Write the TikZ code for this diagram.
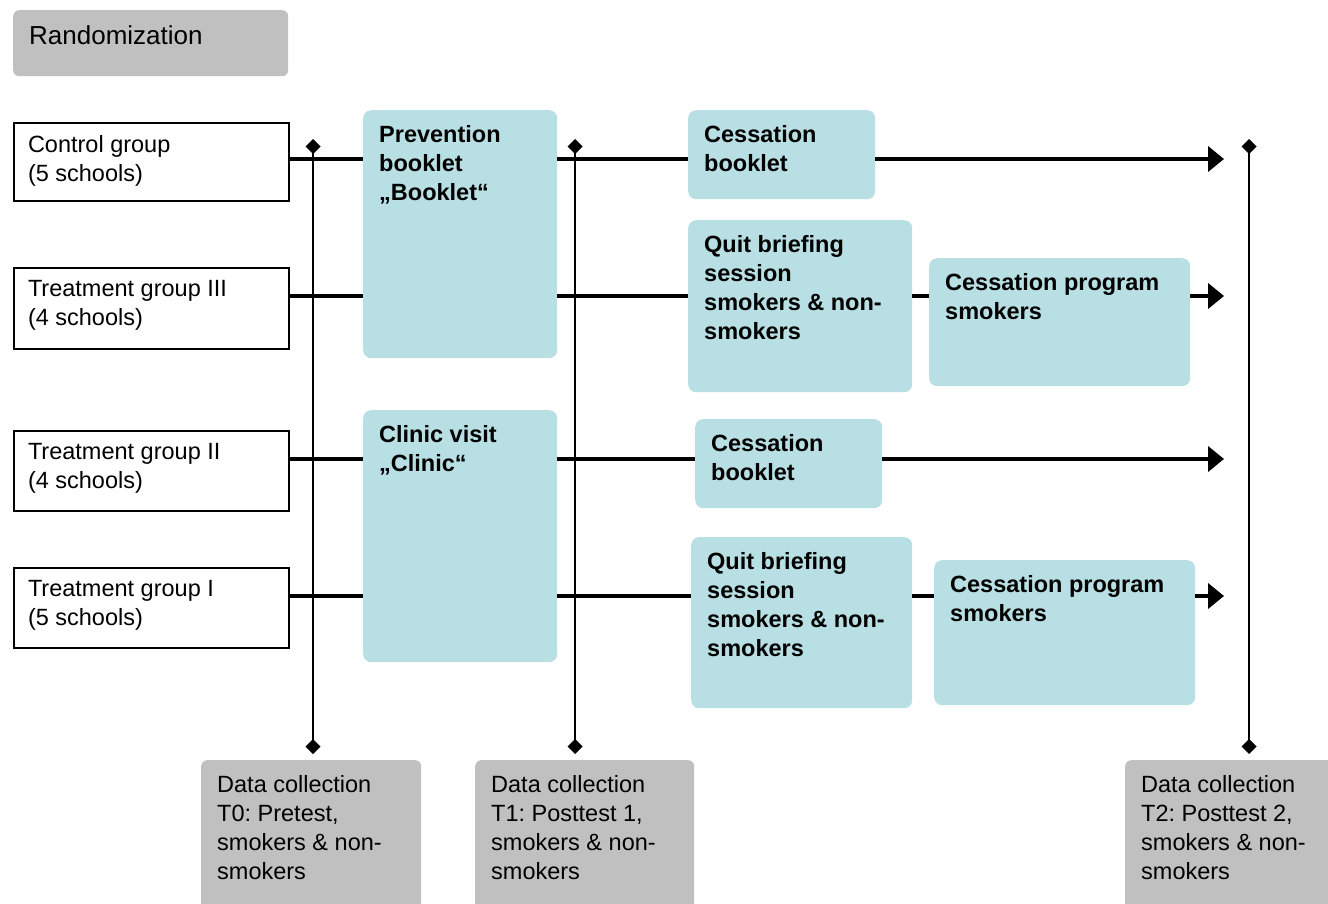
\documentclass[tikz,border=0pt]{standalone}
\usepackage{fontspec}
\setmainfont{Liberation Sans}
\usetikzlibrary{arrows.meta}
\definecolor{boxgray}{HTML}{C0C0C0}
\definecolor{boxblue}{HTML}{B8DFE3}
\frenchspacing
\newcommand{\boxtext}[3]{\parbox[t][\dimexpr#2pt-30pt\relax][t]{\dimexpr#1pt-32pt\relax}{\raggedright #3}}

\begin{document}
\begin{tikzpicture}[x=1pt,y=-1pt,
    base/.style={anchor=north west,inner xsep=16pt,inner ysep=15pt,font=\fontsize{23.5}{29}\selectfont},
    graybox/.style={base,fill=boxgray,rounded corners=6pt},
    groupbox/.style={base,draw,line width=2pt,fill=white,inner xsep=14pt,inner ysep=12pt},
    bluebox/.style={base,fill=boxblue,rounded corners=8pt,font=\bfseries\fontsize{23.5}{29}\selectfont},
    flow/.style={line width=4pt},
    endarrow/.style={flow,-{Triangle[length=16pt,width=25pt]}},
    timeline/.style={line width=2pt,arrows={Diamond[length=15pt,width=15pt]-Diamond[length=15pt,width=15pt]},shorten >=6pt}]

      \clip (0,0) rectangle (1328,904);

      \node (rand) [graybox,font=\fontsize{26}{31}\selectfont] at (13,10) {\boxtext{275}{66}{Randomization}};

      \node (ctrl) [groupbox] at (13,122) {\boxtext{279}{84}{Control group\\(5 schools)}};
      \node (tg3) [groupbox] at (13,267) {\boxtext{279}{87}{Treatment group III\\(4 schools)}};
      \node (tg2) [groupbox] at (13,430) {\boxtext{279}{86}{Treatment group II\\(4 schools)}};
      \node (tg1) [groupbox] at (13,567) {\boxtext{279}{86}{Treatment group I\\(5 schools)}};

      \node (prev) [bluebox] at (363,110) {\boxtext{194}{248}{Prevention\\booklet\\„Booklet“}};
      \node (clinic) [bluebox] at (363,410) {\boxtext{194}{252}{Clinic visit\\„Clinic“}};

      \node (cb1) [bluebox] at (688,110) {\boxtext{187}{89}{Cessation\\booklet}};
      \node (qb1) [bluebox] at (688,220) {\boxtext{224}{172}{Quit briefing\\session\\smokers \& non-\\smokers}};
      \node (cp1) [bluebox] at (929,258) {\boxtext{261}{128}{Cessation program\\smokers}};
      \node (cb2) [bluebox] at (695,419) {\boxtext{187}{89}{Cessation\\booklet}};
      \node (qb2) [bluebox] at (691,537) {\boxtext{221}{171}{Quit briefing\\session\\smokers \& non-\\smokers}};
      \node (cp2) [bluebox] at (934,560) {\boxtext{261}{145}{Cessation program\\smokers}};

      \node (dc0) [graybox] at (201,760) {\boxtext{220}{160}{Data collection\\T0: Pretest,\\smokers \& non-\\smokers}};
      \node (dc1) [graybox] at (475,760) {\boxtext{219}{160}{Data collection\\T1: Posttest 1,\\smokers \& non-\\smokers}};
      \node (dc2) [graybox] at (1125,760) {\boxtext{215}{160}{Data collection\\T2: Posttest 2,\\smokers \& non-\\smokers}};

      \coordinate (r1) at (1224,159);
      \coordinate (r2) at (1224,296);
      \coordinate (r3) at (1224,459);
      \coordinate (r4) at (1224,596);

      \draw[flow] (ctrl.east |- r1) -- (prev.west |- r1);
      \draw[flow] (prev.east |- r1) -- (cb1.west |- r1);
      \draw[endarrow] (cb1.east |- r1) -- (r1);

      \draw[flow] (tg3.east |- r2) -- (prev.west |- r2);
      \draw[flow] (prev.east |- r2) -- (qb1.west |- r2);
      \draw[flow] (qb1.east |- r2) -- (cp1.west |- r2);
      \draw[endarrow] (cp1.east |- r2) -- (r2);

      \draw[flow] (tg2.east |- r3) -- (clinic.west |- r3);
      \draw[flow] (clinic.east |- r3) -- (cb2.west |- r3);
      \draw[endarrow] (cb2.east |- r3) -- (r3);

      \draw[flow] (tg1.east |- r4) -- (clinic.west |- r4);
      \draw[flow] (clinic.east |- r4) -- (qb2.west |- r4);
      \draw[flow] (qb2.east |- r4) -- (cp2.west |- r4);
      \draw[endarrow] (cp2.east |- r4) -- (r4);

      \coordinate (t0) at (313,139);
      \coordinate (t1) at (575,139);
      \coordinate (t2) at (1249,139);

      \draw[timeline] (t0) -- (t0 |- dc0.north);
      \draw[timeline] (t1) -- (t1 |- dc1.north);
      \draw[timeline] (t2) -- (t2 |- dc2.north);

    \end{tikzpicture}
\end{document}
